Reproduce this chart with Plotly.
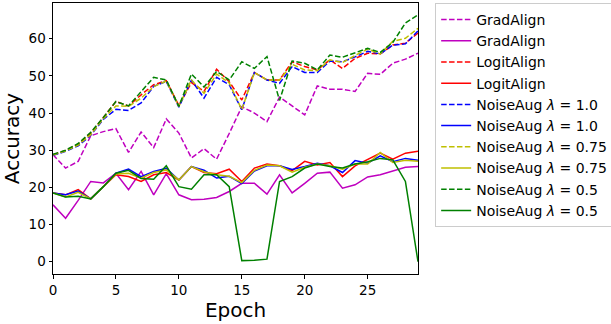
import plotly.graph_objects as go

epochs = list(range(30))

grad_dashed = [28.8, 25.2, 27.0, 33.9, 35.0, 35.8, 29.4, 34.9, 30.7, 38.4,
               34.6, 27.9, 30.4, 27.6, 34.5, 41.7, 40.0, 37.7, 44.3, 41.9,
               39.5, 47.3, 46.4, 46.4, 45.8, 50.7, 50.4, 53.4, 54.5, 56.1]
grad_solid = [15.3, 11.7, 16.5, 21.6, 21.2, 23.8, 19.4, 24.3, 18.0, 23.7,
              18.0, 16.7, 16.8, 17.3, 18.9, 21.1, 21.1, 18.2, 23.4, 18.5,
              21.1, 23.8, 24.1, 19.8, 20.7, 22.8, 23.4, 24.5, 25.4, 25.6]

logit_dashed = [28.8, 29.9, 31.6, 34.6, 38.8, 43.1, 41.9, 44.9, 47.6, 48.7,
                42.0, 48.2, 45.8, 51.8, 48.4, 43.5, 50.9, 48.9, 48.9, 53.8,
                52.5, 51.6, 54.3, 52.0, 54.7, 56.1, 55.9, 58.3, 58.8, 61.5]
logit_solid = [18.5, 18.0, 19.4, 16.9, 20.2, 23.4, 22.9, 21.6, 23.4, 24.0,
               22.0, 25.6, 24.0, 23.7, 24.9, 21.6, 25.2, 26.3, 25.8, 24.5,
               27.0, 26.0, 26.7, 22.9, 25.8, 27.6, 29.2, 27.6, 29.2, 29.7]

n10_dashed = [28.6, 29.7, 31.2, 34.0, 38.3, 41.0, 40.7, 42.7, 47.2, 48.5,
              41.6, 48.9, 44.0, 49.6, 47.6, 40.9, 50.9, 48.9, 48.0, 52.5,
              50.9, 50.9, 54.0, 53.8, 55.1, 56.6, 55.9, 58.3, 58.6, 62.1]
n10_solid = [18.5, 18.0, 19.0, 16.9, 20.2, 23.8, 24.9, 22.9, 24.3, 25.1,
             22.0, 25.6, 24.6, 22.5, 23.0, 21.0, 24.4, 25.8, 25.8, 24.8,
             25.6, 26.5, 25.8, 24.0, 27.2, 26.5, 28.5, 26.9, 27.8, 27.3]

n075_dashed = [28.7, 29.8, 31.4, 34.2, 38.5, 41.9, 41.8, 44.0, 47.1, 48.6,
               41.8, 48.9, 45.3, 50.5, 48.1, 40.9, 50.9, 48.9, 48.9, 53.1,
               51.6, 51.4, 54.3, 53.6, 55.5, 57.2, 55.9, 59.3, 60.1, 62.8]
n075_solid = [18.5, 17.4, 18.7, 16.9, 20.2, 23.6, 23.8, 22.5, 24.0, 24.7,
              22.0, 25.6, 24.2, 23.4, 23.0, 21.3, 24.6, 26.0, 25.8, 24.1,
              25.4, 26.3, 25.8, 24.9, 26.3, 26.3, 29.4, 26.7, 27.3, 27.0]

n05_dashed = [28.9, 30.0, 31.8, 34.8, 38.8, 43.1, 41.9, 45.8, 49.6, 48.9,
              41.8, 50.5, 47.0, 51.2, 48.9, 53.8, 52.0, 55.2, 43.4, 54.0,
              53.4, 51.6, 55.6, 55.0, 56.1, 57.4, 56.3, 59.0, 64.2, 66.4]
n05_solid = [18.5, 17.4, 17.6, 16.9, 20.2, 23.8, 24.6, 22.4, 22.2, 25.8,
             20.2, 19.5, 23.4, 23.4, 20.2, 0.3, 0.4, 0.7, 21.6, 22.9,
             25.2, 26.3, 25.6, 25.2, 26.3, 26.9, 27.8, 27.4, 21.6, 0.0]

names = ["GradAlign", "LogitAlign", "NoiseAug <i>λ</i> = 1.0",
         "NoiseAug <i>λ</i> = 0.75", "NoiseAug <i>λ</i> = 0.5"]
colors = ["#bf00bf", "#ff0000", "#0000ff", "#bfbf00", "#008000"]
dashed = [grad_dashed, logit_dashed, n10_dashed, n075_dashed, n05_dashed]
solid = [grad_solid, logit_solid, n10_solid, n075_solid, n05_solid]

fig = go.Figure()
for name, c, d, s in zip(names, colors, dashed, solid):
    fig.add_trace(go.Scatter(x=epochs, y=d, mode="lines", name=name,
                             line=dict(color=c, width=1.5, dash="5.5px,2.4px")))
    fig.add_trace(go.Scatter(x=epochs, y=s, mode="lines", name=name,
                             line=dict(color=c, width=1.5)))

axis_common = dict(showgrid=False, zeroline=False, showline=True,
                   linecolor="black", linewidth=1, mirror=True,
                   ticks="outside", ticklen=3.5, tickcolor="black",
                   tickfont=dict(family="DejaVu Sans", size=13.5, color="black"))
fig.update_xaxes(range=[0, 29], tickvals=[0, 5, 10, 15, 20, 25],
                 title=dict(text="Epoch", font=dict(family="DejaVu Sans", size=20, color="black"),
                            standoff=1), **axis_common)
fig.update_yaxes(range=[-3.3, 69.6], tickvals=[0, 10, 20, 30, 40, 50, 60],
                 title=dict(text="Accuracy", font=dict(family="DejaVu Sans", size=20, color="black"),
                            standoff=5), **axis_common)

fig.update_layout(
    width=611, height=324,
    margin=dict(l=53, r=193, t=3, b=50, autoexpand=False),
    plot_bgcolor="white", paper_bgcolor="white",
    legend=dict(x=1.047, y=1.0, xanchor="left", yanchor="top",
                bordercolor="#cccccc", borderwidth=1,
                font=dict(family="DejaVu Sans", size=14, color="black"),
                itemwidth=30, tracegroupgap=0),
)

fig.write_html("out.html")
